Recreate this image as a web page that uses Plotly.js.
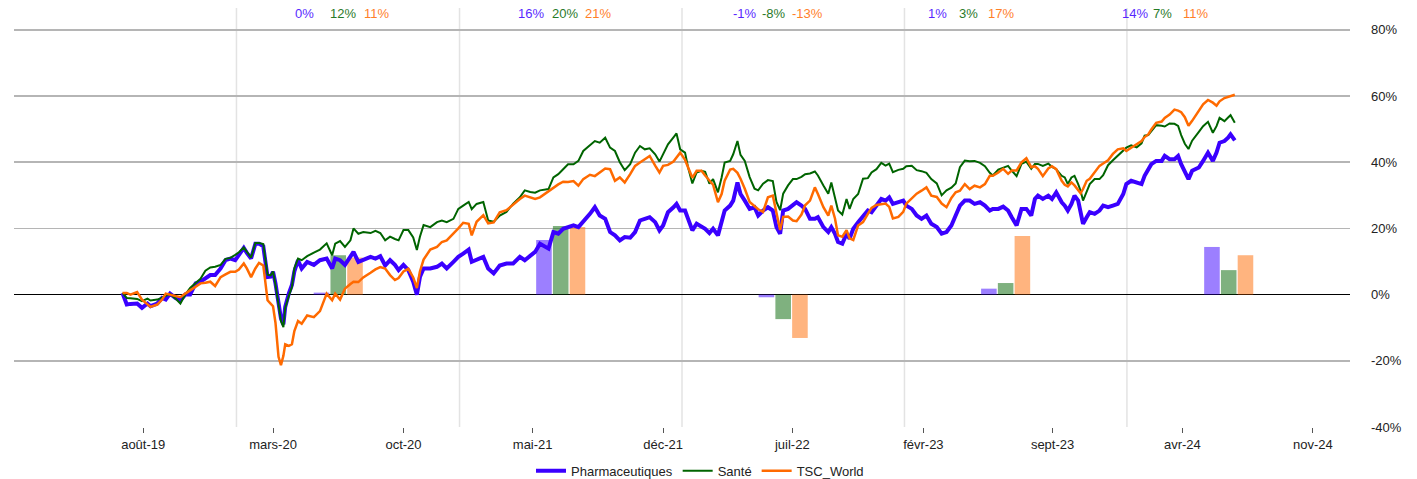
<!DOCTYPE html>
<html><head><meta charset="utf-8">
<script src="https://cdn.plot.ly/plotly-3.0.1.min.js"></script>
<style>html,body{margin:0;padding:0;background:#fff}#chart{width:1417px;height:479px}</style>
</head><body><div id="chart"></div>
<script>
// ---- data ----
const dates = [
"2019-06-28","2019-07-05","2019-07-11","2019-07-22","2019-07-30","2019-08-08","2019-08-13","2019-08-24","2019-09-01","2019-09-07","2019-09-14","2019-09-23","2019-10-01","2019-10-09","2019-10-17","2019-10-26","2019-11-03","2019-11-11","2019-11-19","2019-11-27","2019-12-06","2019-12-14","2019-12-22","2019-12-30",
"2020-01-05","2020-01-13","2020-01-18","2020-01-25","2020-02-01","2020-02-07","2020-02-14","2020-02-17","2020-02-21","2020-02-26","2020-03-01","2020-03-05","2020-03-10","2020-03-14","2020-03-18","2020-03-21","2020-03-27","2020-04-01","2020-04-05","2020-04-11","2020-04-17","2020-04-26","2020-05-07","2020-05-17","2020-05-28","2020-06-06","2020-06-11","2020-06-19","2020-06-27","2020-07-06","2020-07-11","2020-07-19","2020-07-27","2020-08-08","2020-08-16","2020-08-24","2020-09-01","2020-09-09","2020-09-17","2020-09-23","2020-10-01","2020-10-09","2020-10-17","2020-10-23","2020-10-28","2020-11-03","2020-11-14","2020-11-25","2020-12-03","2020-12-11","2020-12-22","2020-12-30",
"2021-01-07","2021-01-16","2021-01-21","2021-01-29","2021-02-09","2021-02-17","2021-02-26","2021-03-08","2021-03-19","2021-03-30","2021-04-10","2021-04-18","2021-04-27","2021-05-05","2021-05-13","2021-05-27","2021-06-04","2021-06-12","2021-06-20","2021-06-28","2021-07-07","2021-07-15","2021-07-23","2021-08-03","2021-08-11","2021-08-19","2021-08-28","2021-09-05","2021-09-13","2021-09-21","2021-09-29","2021-10-08","2021-10-16","2021-10-24","2021-11-01","2021-11-09","2021-11-18","2021-11-25","2021-12-01","2021-12-09","2021-12-18","2021-12-23","2021-12-29",
"2022-01-06","2022-01-11","2022-01-18","2022-01-25","2022-02-02","2022-02-08","2022-02-15","2022-02-21","2022-03-01","2022-03-07","2022-03-12","2022-03-21","2022-03-26","2022-04-02","2022-04-07","2022-04-14","2022-04-22","2022-04-30","2022-05-06","2022-05-14","2022-05-22","2022-05-30","2022-06-05","2022-06-11","2022-06-16","2022-06-24","2022-07-02","2022-07-08","2022-07-16","2022-07-22","2022-07-30","2022-08-07","2022-08-12","2022-08-21","2022-08-29","2022-09-03","2022-09-09","2022-09-14","2022-09-21","2022-09-28","2022-10-03","2022-10-09","2022-10-17","2022-10-25","2022-11-02","2022-11-08","2022-11-16","2022-11-24","2022-12-01","2022-12-07","2022-12-13","2022-12-22","2022-12-30",
"2023-01-04","2023-01-13","2023-01-21","2023-01-29","2023-02-06","2023-02-14","2023-02-23","2023-03-03","2023-03-11","2023-03-19","2023-03-26","2023-04-02","2023-04-10","2023-04-18","2023-04-26","2023-05-05","2023-05-13","2023-05-21","2023-05-26","2023-06-04","2023-06-12","2023-06-20","2023-06-26","2023-07-04","2023-07-12","2023-07-20","2023-07-28","2023-08-03","2023-08-08","2023-08-16","2023-08-25","2023-08-31","2023-09-07","2023-09-16","2023-09-21","2023-09-26","2023-10-02","2023-10-07","2023-10-13","2023-10-17","2023-10-21","2023-10-27","2023-11-01","2023-11-09","2023-11-17","2023-11-23","2023-12-01","2023-12-09","2023-12-17","2023-12-26","2023-12-31",
"2024-01-08","2024-01-17","2024-01-25","2024-01-30","2024-02-05","2024-02-10","2024-02-18","2024-02-27","2024-03-03","2024-03-11","2024-03-19","2024-03-25","2024-03-30","2024-04-05","2024-04-11","2024-04-17","2024-04-23","2024-04-28","2024-05-05","2024-05-13","2024-05-21","2024-05-27","2024-06-01","2024-06-09","2024-06-15","2024-06-19","2024-06-26"
];
const pharma = [
0.5,-3,-2.8,-2.7,-4,-2.7,-3.5,-2.7,-1,-1.5,0.3,-1,-1.7,0,0,3.4,3.9,4.9,5.9,5.9,7.9,10.4,10.9,10.4,
12.2,14.1,12.6,10.9,15.4,15.4,14.6,10.4,5.3,5.4,6.9,3.4,-1.7,-7.2,-9,-3.7,0.4,2.9,7.0,10.4,7.9,9.9,9.0,10.4,10.9,7.9,10.9,10.4,9.0,11.4,12.9,9.9,10.4,11.4,10.9,11.6,8.8,10.4,9.0,7.4,9.0,7.4,3.9,0,5.3,7.9,7.9,8.4,9.4,7.9,9.9,11.4,
12.4,13.6,9.9,10.4,11.4,7.9,6.4,8.8,9.4,9.4,11.4,10.4,11.9,12.9,15.4,13.9,18.9,18.4,19.9,20.4,20.9,20.4,21.9,24.4,26.4,23.9,22.9,18.9,17.9,16.4,17.4,17.2,18.9,22.4,22.9,23.4,21.9,19.4,20.9,24.9,26.4,27.4,25.4,
25.4,22.9,19.4,21.4,20.4,19.9,18.6,19.9,17.9,22.4,25.4,26.9,28.4,33.9,30.4,28.4,25.9,26.4,23.9,25.4,26.4,25.4,20.4,18.4,25.4,25.9,26.9,27.9,26.9,25.9,22.9,22.9,23.4,20.4,18.9,20.4,18.4,15.9,15.4,18.4,16.9,19.9,21.9,23.9,25.4,24.9,26.9,28.9,28.4,29.4,27.4,27.9,28.4,
26.9,25.9,23.9,22.9,23.9,21.4,20.4,18.4,18.9,20.9,23.9,26.9,28.4,28.4,27.4,27.9,26.9,25.4,25.9,25.9,26.6,25.4,23.4,20.9,25.9,25.9,23.9,28.9,29.9,28.9,29.9,28.9,30.9,27.9,26.9,25.4,27.4,29.9,28.4,24.4,21.4,23.4,24.9,24.4,25.4,26.9,26.4,26.9,27.4,30.4,33.4,
34.4,33.9,33.4,35.9,37.9,39.4,40.4,40.4,41.9,40.9,40.9,41.9,39.4,36.9,34.9,37.4,37.9,38.4,40.4,42.9,40.4,42.9,45.9,46.4,47.4,48.4,46.6
];
const sante = [
0.5,-1.0,-1.1,-1.3,-2.0,-1.2,-1.8,-1.5,-0.9,-0.3,0.2,-1.2,-2.7,0,2.0,3.5,4.8,7.2,8.2,8.4,9.0,10.8,11.1,12.0,
12.8,14.2,13.0,11.2,15.6,15.6,15.3,11.0,6.0,5.8,7.0,3.0,-2.5,-8.0,-9.8,-4.0,-0.3,2.3,8.0,10.9,10.4,11.6,12.7,13.6,15.5,11.9,15.4,16.2,14.4,16.4,20.0,18.4,18.9,18.6,19.3,18.6,16.4,17.5,16.8,16.4,19.5,19.5,17.3,13.5,17.5,21.0,20.4,21.9,22.4,21.9,22.9,25.9,
26.9,28.0,25.8,27.4,28.0,22.4,22.0,23.9,25.0,27.5,29.4,31.5,31.0,30.8,31.5,31.9,35.4,36.4,37.9,39.4,39.4,40.4,43.4,45.0,46.4,45.9,47.4,44.4,43.4,40.0,37.6,39.4,42.9,44.9,43.9,44.2,42.4,40.2,42.4,45.4,47.5,48.7,43.9,
42.9,38.4,33.6,36.9,37.4,37.1,33.5,34.9,30.9,35.4,39.9,40.4,42.4,46.4,42.2,40.4,35.5,32.0,31.5,33.5,34.6,34.3,28.0,25.5,30.5,33.0,34.9,34.9,35.6,36.4,36.6,37.2,36.0,33.0,30.5,33.9,29.4,25.4,24.2,28.9,25.9,28.9,30.4,35.0,35.2,36.9,37.9,39.8,39.0,39.6,37.0,37.7,38.0,
38.8,38.9,37.6,37.3,36.8,34.9,33.6,30.0,31.5,32.3,33.6,38.5,40.5,40.3,40.4,39.8,38.8,36.8,36.0,37.8,38.3,38.9,37.5,35.8,39.5,40.2,38.0,39.5,39.5,38.9,39.6,38.6,37.9,35.9,35.4,33.4,35.4,35.9,33.4,31.4,28.4,31.4,33.4,34.9,34.9,36.1,39.1,40.6,41.9,43.4,44.4,
45.1,44.5,45.7,48.0,48.2,49.4,51.2,51.0,50.8,51.7,51.6,51.0,48.2,45.6,44.0,46.5,47.8,49.2,50.9,52.2,48.9,50.9,53.4,52.4,53.5,54.2,51.9
];
const tscWorld = [
0.5,0.5,0,0.8,-1.5,-3.0,-3.7,-3.0,-1.5,0.3,0,-0.5,-0.8,0.3,1.3,2.4,3.4,3.6,3.9,2.6,5.3,6.1,6.9,6.9,
7.6,9.4,7.9,5.3,7.9,9.6,8.8,4.4,-1.7,-2.7,-3.5,-8.5,-18.8,-21.3,-18.5,-15.0,-15.5,-15.0,-11.0,-8.0,-8.8,-6.3,-6.8,-5.0,0.3,-1.7,0.3,-1.5,1.8,3.2,3.9,3.8,5.2,6.6,7.6,8.3,7.9,5.9,4.4,5.0,7.0,7.8,5.2,2.0,7.0,10.6,13.6,14.4,15.9,16.4,18.4,20.0,
21.7,21.4,17.9,22.0,24.0,21.5,21.8,24.9,25.5,27.3,28.9,29.9,29.4,28.9,29.4,31.2,32.4,33.3,34.1,34.0,34.3,32.9,34.9,36.2,35.8,36.8,38.1,37.9,34.4,35.4,33.9,36.4,38.9,39.9,40.9,41.9,39.0,36.9,38.9,39.2,40.2,41.5,42.9,
40.7,38.4,35.3,37.4,37.4,36.0,34.5,33.2,27.9,30.4,34.4,37.8,38.0,36.8,35.0,32.0,28.0,26.6,25.8,25.0,29.4,29.9,25.0,19.5,23.5,23.6,22.4,22.2,24.2,27.0,28.4,32.4,30.4,26.4,23.9,26.9,23.0,17.9,17.5,19.5,17.0,16.5,20.9,21.9,24.4,26.2,27.1,27.2,27.5,26.5,23.0,23.5,25.0,
27.5,29.0,30.5,31.4,32.4,29.9,29.5,27.5,26.4,29.2,30.9,31.4,33.4,31.9,32.9,32.4,33.4,35.9,35.9,36.9,38.0,36.5,37.5,37.5,40.0,41.2,38.5,38.8,38.0,35.8,38.1,38.8,37.9,34.4,33.2,32.7,33.9,33.0,31.6,30.6,31.9,34.4,35.0,37.1,38.9,39.6,40.6,42.5,43.9,44.2,43.4,
44.4,45.4,46.4,47.6,48.4,49.9,51.9,52.3,53.4,54.4,55.9,55.6,55.1,53.6,51.0,52.5,54.2,55.6,57.5,58.8,58.0,57.1,58.4,59.4,59.7,60.0,60.4
];
const annualYears = [2020, 2021, 2022, 2023, 2024];
const annualPharma = [0.6, 16.5, -0.8, 1.8, 14.4];
const annualSante = [11.9, 20.7, -7.4, 3.5, 7.4];
const annualWorld = [11.2, 20.4, -13.1, 17.7, 11.9];
const labelPharma = ["0%", "16%", "-1%", "1%", "14%"];
const labelSante = ["12%", "20%", "-8%", "3%", "7%"];
const labelWorld = ["11%", "21%", "-13%", "17%", "11%"];
const tickDates = ["2019-08-01","2020-03-01","2020-10-01","2021-05-01","2021-12-01","2022-07-01","2023-02-01","2023-09-01","2024-04-01","2024-11-01"];
const tickLabels = ["août-19","mars-20","oct-20","mai-21","déc-21","juil-22","févr-23","sept-23","avr-24","nov-24"];
const yTickValues = [-40, -20, 0, 20, 40, 60, 80];
const yTickLabels = ["-40%", "-20%", "0%", "20%", "40%", "60%", "80%"];
const seriesNames = ["Pharmaceutiques", "Santé", "TSC_World"];

// ---- styling ----
const colors = ["#3a00ff", "#006400", "#ff6a00"];
const widths = [4, 2, 2.5];
const font = "Liberation Sans, Arial, sans-serif";
const barX = annualYears.map(y => y + "-06-16");

const lineData = [pharma, sante, tscWorld];
const barData = [annualPharma, annualSante, annualWorld];
const labelData = [labelPharma, labelSante, labelWorld];

const traces = [];
barData.forEach((vals, i) => {
  traces.push({type: "bar", x: barX, y: vals, marker: {color: colors[i], opacity: 0.5},
    showlegend: false, hoverinfo: "skip"});
});
lineData.forEach((vals, i) => {
  traces.push({type: "scatter", mode: "lines", x: dates, y: vals, name: seriesNames[i],
    line: {color: colors[i], width: widths[i]}});
});

// label positions (paper fraction across plot width)
const labelPos = [
  [0.2178, 0.3870, 0.5472, 0.6916, 0.8391],
  [0.2463, 0.4124, 0.5689, 0.7141, 0.8593],
  [0.2717, 0.4371, 0.5936, 0.7388, 0.8840]
];
const annotations = [];
labelData.forEach((labels, i) => {
  labels.forEach((t, k) => {
    annotations.push({xref: "paper", yref: "paper", x: labelPos[i][k], y: 0.9857,
      xanchor: "center", yanchor: "middle", text: t, showarrow: false, opacity: 0.85,
      font: {family: font, size: 13, color: colors[i]}});
  });
});

const shapes = annualYears.map(y => ({type: "line", xref: "x", yref: "paper",
  x0: y + "-01-01", x1: y + "-01-01", y0: 0, y1: 1, layer: "below",
  line: {color: "#e3e3e3", width: 1.5}}));

const layout = {
  width: 1417, height: 479,
  margin: {l: 14, r: 67, t: 8, b: 52},
  paper_bgcolor: "#fff", plot_bgcolor: "#fff",
  font: {family: font, size: 13, color: "#222"},
  barmode: "group", bargap: 0.774, bargroupgap: 0.07,
  xaxis: {type: "date", range: ["2019-01-01", "2025-01-01"], showgrid: false, zeroline: false,
    showline: false, tickvals: tickDates, ticktext: tickLabels, ticks: "outside", ticklen: 5,
    tickcolor: "#555", tickfont: {size: 13, color: "#222"}},
  yaxis: {side: "right", range: [-40, 86.6], tickvals: yTickValues, ticktext: yTickLabels,
    showgrid: true, gridcolor: "#b5b5b5", gridwidth: 1.5,
    zeroline: true, zerolinecolor: "#000", zerolinewidth: 1.2, showline: false,
    ticks: "", ticklabelstandoff: 20, tickfont: {size: 13, color: "#222"}},
  legend: {orientation: "h", xref: "container", yref: "container", x: 0.494, y: 0.017,
    xanchor: "center", yanchor: "middle", font: {size: 13, color: "#222"}},
  shapes: shapes,
  annotations: annotations,
  hovermode: false
};

Plotly.newPlot("chart", traces, layout, {displayModeBar: false, staticPlot: true});
</script>
</body></html>
